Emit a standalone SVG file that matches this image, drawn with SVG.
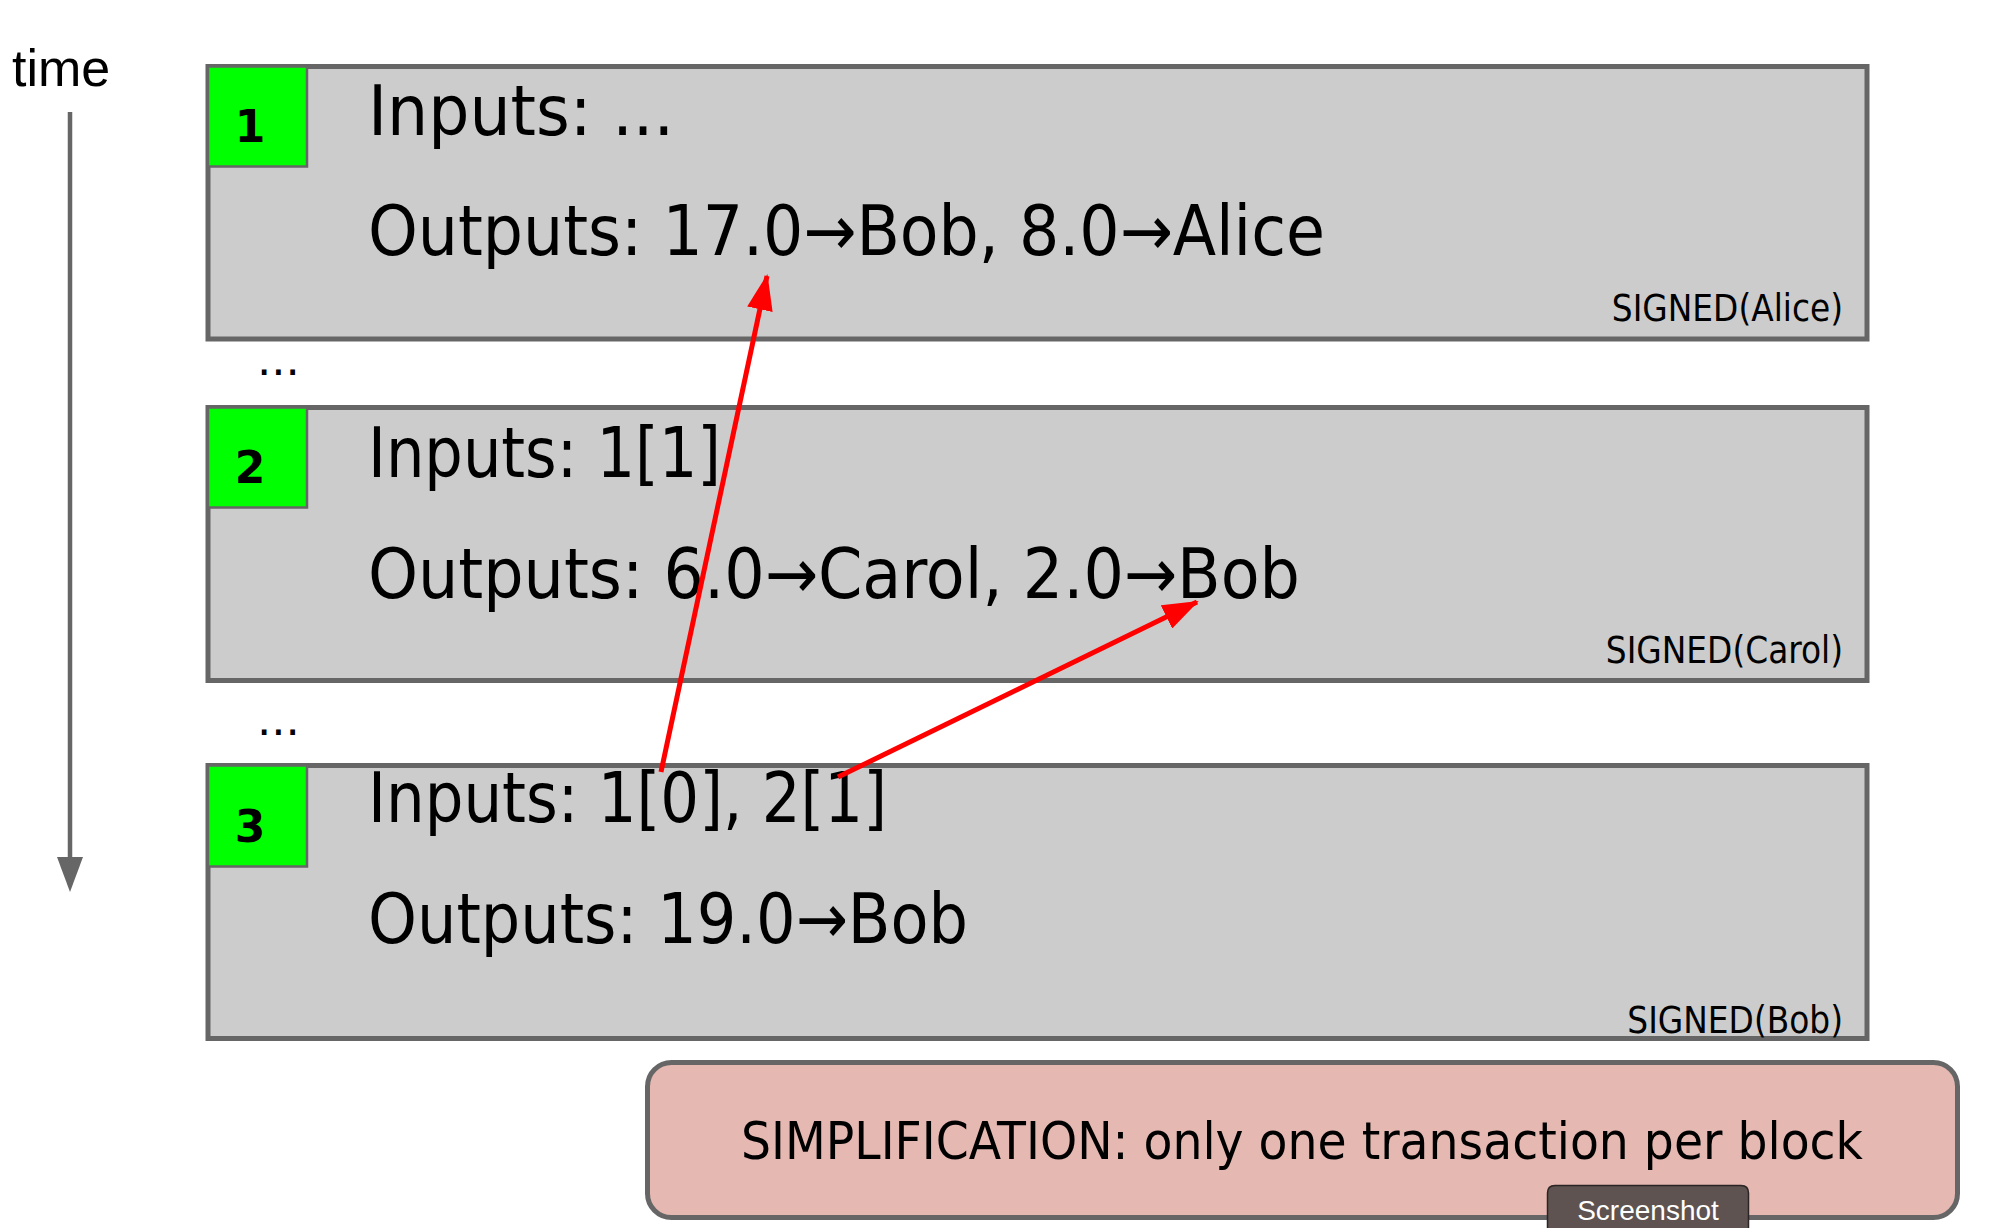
<svg xmlns="http://www.w3.org/2000/svg" width="1998" height="1228" viewBox="0 0 1998 1228">
  <style>
    .block { fill: #cccccc; stroke: #666666; stroke-width: 5; }
    .num-bg { fill: #00ff00; stroke: #666666; stroke-width: 2.5; }
    .num { font-family: "DejaVu Sans", "Liberation Sans", sans-serif; font-weight: bold; font-size: 44px; fill: #000; text-anchor: middle; }
    .main { font-family: "DejaVu Sans Condensed", "DejaVu Sans", sans-serif; font-stretch: condensed; font-size: 70px; fill: #000; }
    .sig { font-family: "DejaVu Sans Condensed", "DejaVu Sans", sans-serif; font-stretch: condensed; font-size: 36.5px; fill: #000; text-anchor: end; }
    .dots { font-family: "DejaVu Sans", sans-serif; font-size: 45px; fill: #000; }
    .ref { stroke: #ff0000; stroke-width: 5; fill: none; }
  </style>
  <defs>
    <marker id="redhead" markerUnits="userSpaceOnUse" markerWidth="36" markerHeight="26" refX="34" refY="13" orient="auto">
      <path d="M0,0 L36,13 L0,26 z" fill="#ff0000"/>
    </marker>
  </defs>
  <rect width="1998" height="1228" fill="#ffffff"/>

  <g id="time-axis">
    <text x="12" y="86" font-family="Liberation Sans, Arial, sans-serif" font-size="52" fill="#000">time</text>
    <line x1="70" y1="112" x2="70" y2="862" stroke="#666666" stroke-width="4.5"/>
    <path d="M57,857 L83,857 L70,892 z" fill="#666666"/>
  </g>

  <g id="block1">
    <rect class="block" x="208" y="66.5" width="1659" height="272.5"/>
    <rect class="num-bg" x="208" y="66.5" width="99" height="100"/>
    <text class="num" x="250" y="142">1</text>
    <text class="main" x="368" y="135" textLength="306" lengthAdjust="spacingAndGlyphs">Inputs: ...</text>
    <text class="main" x="368" y="255" textLength="957" lengthAdjust="spacingAndGlyphs">Outputs: 17.0→Bob, 8.0→Alice</text>
    <text class="sig" x="1843" y="321">SIGNED(Alice)</text>
  </g>

  <text id="gap1" class="dots" x="257" y="375">...</text>

  <g id="block2">
    <rect class="block" x="208" y="407.5" width="1659" height="273"/>
    <rect class="num-bg" x="208" y="407.5" width="99" height="100"/>
    <text class="num" x="250" y="483">2</text>
    <text class="main" x="368" y="477" textLength="353" lengthAdjust="spacingAndGlyphs">Inputs: 1[1]</text>
    <text class="main" x="368" y="598" textLength="932" lengthAdjust="spacingAndGlyphs">Outputs: 6.0→Carol, 2.0→Bob</text>
    <text class="sig" x="1843" y="663">SIGNED(Carol)</text>
  </g>

  <text id="gap2" class="dots" x="257" y="735">...</text>

  <g id="block3">
    <rect class="block" x="208" y="765.5" width="1659" height="273"/>
    <rect class="num-bg" x="208" y="765.5" width="99" height="101"/>
    <text class="num" x="250" y="842">3</text>
    <text class="main" x="368" y="822" textLength="519" lengthAdjust="spacingAndGlyphs">Inputs: 1[0], 2[1]</text>
    <text class="main" x="368" y="943" textLength="600" lengthAdjust="spacingAndGlyphs">Outputs: 19.0→Bob</text>
    <text class="sig" x="1843" y="1033">SIGNED(Bob)</text>
  </g>

  <g id="note">
    <rect x="647.5" y="1062.5" width="1310" height="155" rx="24" ry="24" fill="#e6b8b2" stroke="#666666" stroke-width="5"/>
    <text x="1302" y="1159" font-family="DejaVu Sans Condensed, DejaVu Sans, sans-serif" font-stretch="condensed" font-size="52" fill="#000" text-anchor="middle" textLength="1122" lengthAdjust="spacingAndGlyphs">SIMPLIFICATION: only one transaction per block</text>
  </g>

  <g id="screenshot-button">
    <path d="M1547.5,1240 L1547.5,1193 Q1547.5,1185.5 1555,1185.5 L1741,1185.5 Q1748.5,1185.5 1748.5,1193 L1748.5,1240 z" fill="#5e5350" stroke="#2a2424" stroke-width="1.5"/>
    <text x="1648" y="1220" font-family="Liberation Sans, Arial, sans-serif" font-size="28" fill="#ffffff" text-anchor="middle">Screenshot</text>
  </g>

  <g id="connectors">
    <line class="ref" x1="661" y1="772" x2="767" y2="276" marker-end="url(#redhead)"/>
    <line class="ref" x1="838" y1="777" x2="1197" y2="602" marker-end="url(#redhead)"/>
  </g>
</svg>
